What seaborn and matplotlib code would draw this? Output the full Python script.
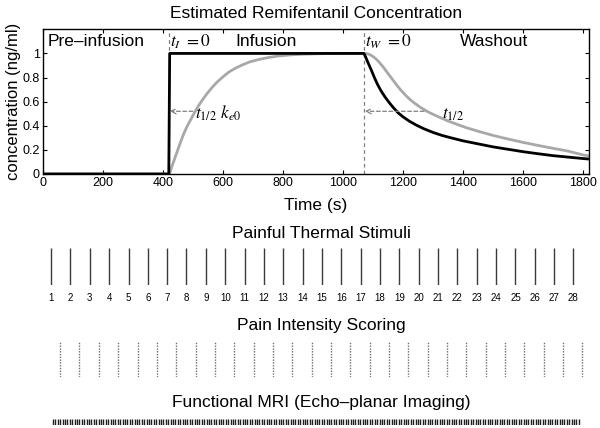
import numpy as np
import pandas as pd
import matplotlib
matplotlib.use("Agg")
import matplotlib.pyplot as plt
import seaborn as sns

# ---------------- data ----------------
plasma_time = [0, 420, 423, 1070, 1075, 1080, 1087, 1095, 1105, 1115, 1127, 1140, 1155, 1170,
               1185, 1200, 1220, 1245, 1270, 1300, 1330, 1360, 1400, 1450, 1500, 1550, 1600,
               1650, 1700, 1750, 1800, 1820]
plasma_conc = [0, 0, 1.0, 1.0, 0.975, 0.945, 0.905, 0.86, 0.80, 0.745, 0.69, 0.64, 0.59, 0.545,
               0.505, 0.475, 0.44, 0.405, 0.375, 0.345, 0.32, 0.30, 0.275, 0.25, 0.225, 0.205,
               0.185, 0.168, 0.152, 0.14, 0.128, 0.124]

effect_time = [0, 422, 430, 440, 450, 460, 470, 480, 495, 508, 520, 535, 550, 565, 580, 600,
               620, 640, 665, 690, 720, 750, 780, 820, 870, 930, 1000, 1070, 1080, 1090, 1100,
               1110, 1120, 1135, 1150, 1165, 1180, 1195, 1210, 1225, 1240, 1260, 1280, 1300,
               1325, 1350, 1380, 1410, 1450, 1500, 1550, 1600, 1650, 1700, 1750, 1800, 1820]
effect_conc = [0, 0, 0.06, 0.13, 0.20, 0.27, 0.335, 0.39, 0.46, 0.52, 0.57, 0.625, 0.675, 0.72,
               0.76, 0.805, 0.845, 0.875, 0.905, 0.93, 0.95, 0.965, 0.977, 0.987, 0.994, 0.998,
               1.0, 1.0, 0.998, 0.99, 0.975, 0.955, 0.93, 0.885, 0.835, 0.785, 0.735, 0.69, 0.65,
               0.615, 0.585, 0.55, 0.52, 0.495, 0.467, 0.44, 0.412, 0.385, 0.355, 0.32, 0.29,
               0.262, 0.237, 0.213, 0.19, 0.158, 0.15]

infusion_start = 420
washout_start = 1070
half_life_level = 0.52

x_ticks = [0, 200, 400, 600, 800, 1000, 1200, 1400, 1600, 1800]
y_ticks = [0, 0.2, 0.4, 0.6, 0.8, 1.0]
y_tick_labels = ["0", "0.2", "0.4", "0.6", "0.8", "1"]

stimulus_times = [28, 92, 157, 221, 286, 350, 415, 479, 544, 608, 673, 737, 801, 866,
                  930, 995, 1059, 1124, 1188, 1253, 1317, 1381, 1446, 1510, 1575, 1639, 1704, 1768]
stimulus_labels = [str(i) for i in range(1, 29)]

rating_times = [58, 122, 187, 251, 316, 380, 445, 509, 574, 638, 703, 767, 831, 896,
                960, 1025, 1089, 1154, 1218, 1283, 1347, 1411, 1476, 1540, 1605, 1669, 1734, 1798]

fmri_times = [
    34, 42, 50, 58, 66, 74, 82, 90, 98, 106,
    114, 122, 130, 138, 146, 154, 162, 170, 178, 186,
    194, 202, 210, 218, 226, 234, 242, 250, 258, 266,
    274, 282, 290, 298, 306, 314, 322, 330, 338, 346,
    354, 362, 370, 378, 386, 394, 402, 410, 418, 426,
    434, 442, 450, 458, 466, 474, 482, 490, 498, 506,
    514, 522, 530, 538, 546, 554, 562, 570, 578, 586,
    594, 602, 610, 618, 626, 634, 642, 650, 658, 666,
    674, 682, 690, 698, 706, 714, 722, 730, 738, 746,
    754, 762, 770, 778, 786, 794, 802, 810, 818, 826,
    834, 842, 850, 858, 866, 874, 882, 890, 898, 906,
    914, 922, 930, 938, 946, 954, 962, 970, 978, 986,
    994, 1002, 1010, 1018, 1026, 1034, 1042, 1050, 1058, 1066,
    1074, 1082, 1090, 1098, 1106, 1114, 1122, 1130, 1138, 1146,
    1154, 1162, 1170, 1178, 1186, 1194, 1202, 1210, 1218, 1226,
    1234, 1242, 1250, 1258, 1266, 1274, 1282, 1290, 1298, 1306,
    1314, 1322, 1330, 1338, 1346, 1354, 1362, 1370, 1378, 1386,
    1394, 1402, 1410, 1418, 1426, 1434, 1442, 1450, 1458, 1466,
    1474, 1482, 1490, 1498, 1506, 1514, 1522, 1530, 1538, 1546,
    1554, 1562, 1570, 1578, 1586, 1594, 1602, 1610, 1618, 1626,
    1634, 1642, 1650, 1658, 1666, 1674, 1682, 1690, 1698, 1706,
    1714, 1722, 1730, 1738, 1746, 1754, 1762, 1770, 1778, 1786,
]

# ---------------- style ----------------
sns.set_theme(style="ticks")
plt.rcParams["font.family"] = ["Liberation Sans", "DejaVu Sans"]
plt.rcParams["mathtext.fontset"] = "stix"
for k in ("text.color", "axes.labelcolor", "xtick.color", "ytick.color", "axes.edgecolor"):
    plt.rcParams[k] = "black"

FS = 12.5
fig = plt.figure(figsize=(6, 4.28), dpi=100)
fig.patch.set_facecolor("white")

XMIN, XMAX = 0, 1820
L, R = 0.0712, 0.9817

# ---------------- top panel ----------------
ax = fig.add_axes([L, 0.5935, R - L, 0.338])
df_eff = pd.DataFrame({"time": effect_time, "conc": effect_conc})
df_pl = pd.DataFrame({"time": plasma_time, "conc": plasma_conc})
sns.lineplot(data=df_eff, x="time", y="conc", ax=ax, color="#a8a8a8", lw=2.0,
             estimator=None, sort=False)
sns.lineplot(data=df_pl, x="time", y="conc", ax=ax, color="black", lw=2.0,
             estimator=None, sort=False)
for t in (infusion_start, washout_start):
    ax.axvline(t, color="#808080", lw=0.9, ls=(0, (3, 2.5)), zorder=1)

ax.set_xlim(XMIN, XMAX)
ax.set_ylim(0, 1.2)
ax.set_xticks(x_ticks)
ax.set_xticklabels([str(v) for v in x_ticks], fontsize=9)
ax.set_yticks(y_ticks)
ax.set_yticklabels(y_tick_labels, fontsize=9)
ax.tick_params(direction="in", length=3, width=0.8, top=True, right=True, pad=2)
for s in ax.spines.values():
    s.set_linewidth(1.0)
    s.set_color("black")
ax.set_xlabel("Time (s)", fontsize=FS, labelpad=7)
ax.set_ylabel("concentration (ng/ml)", fontsize=12, labelpad=1)
ax.set_title("Estimated Remifentanil Concentration", fontsize=FS, pad=8)

ax.text(15, 1.1, "Pre\u2013infusion", fontsize=FS, ha="left", va="center")
ax.text(424, 1.1, r"$t_{I}\ \mathit{=0}$", fontsize=12.5, ha="left", va="center")
ax.text(745, 1.1, "Infusion", fontsize=FS, ha="center", va="center")
ax.text(1074, 1.1, r"$t_{W}\ \mathit{=0}$", fontsize=12.5, ha="left", va="center")
ax.text(1505, 1.1, "Washout", fontsize=FS, ha="center", va="center")

arrow_kw = dict(arrowstyle="->,head_length=0.3,head_width=0.15", color="#808080",
                lw=0.9, ls=(0, (3, 2)), shrinkA=0, shrinkB=0)
ax.annotate("", xy=(infusion_start + 3, half_life_level), xytext=(500, half_life_level),
            arrowprops=arrow_kw)
ax.annotate("", xy=(washout_start + 3, half_life_level), xytext=(1270, half_life_level),
            arrowprops=arrow_kw)
ax.text(508, 0.50, r"$t_{1/2}\ k_{e0}$", fontsize=12.5, ha="left", va="center")
ax.text(1330, 0.49, r"$t_{1/2}$", fontsize=12.5, ha="left", va="center")

# ---------------- stimuli panel ----------------
ax2 = fig.add_axes([L, 0.334, R - L, 0.0864])
sns.rugplot(x=stimulus_times, height=1.0, ax=ax2, color="#3a3a3a", lw=1.0, expand_margins=False)
ax2.set_xlim(XMIN, XMAX)
ax2.set_ylim(0, 1)
ax2.set_xticks(stimulus_times)
ax2.set_xticklabels(stimulus_labels, fontsize=7)
ax2.set_yticks([])
ax2.tick_params(axis="x", length=0, pad=6)
for s in ax2.spines.values():
    s.set_visible(False)
ax2.set_xlabel("")
ax2.patch.set_alpha(0)

# ---------------- rating panel ----------------
ax3 = fig.add_axes([L, 0.1192, R - L, 0.0818])
sns.rugplot(x=rating_times, height=1.0, ax=ax3, color="#707070", lw=1.0,
            linestyle=(0, (1, 1)), expand_margins=False)
ax3.set_xlim(XMIN, XMAX)
ax3.set_ylim(0, 1)
ax3.set_xticks([])
ax3.set_yticks([])
for s in ax3.spines.values():
    s.set_visible(False)
ax3.patch.set_alpha(0)

# ---------------- fMRI panel ----------------
ax4 = fig.add_axes([L, 0.006, R - L, 0.0155])
sns.rugplot(x=fmri_times, height=1.0, ax=ax4, color="#202020", lw=1.0, expand_margins=False)
ax4.set_xlim(XMIN, XMAX)
ax4.set_ylim(0, 1)
ax4.set_xticks([])
ax4.set_yticks([])
for s in ax4.spines.values():
    s.set_visible(False)
ax4.patch.set_alpha(0)

fig.text(0.535, 0.4556, "Painful Thermal Stimuli", fontsize=FS, ha="center", va="center")
fig.text(0.535, 0.2395, "Pain Intensity Scoring", fontsize=FS, ha="center", va="center")
fig.text(0.535, 0.0605, "Functional MRI (Echo\u2013planar Imaging)", fontsize=FS,
         ha="center", va="center")

fig.savefig("out.png", dpi=100, facecolor="white")
